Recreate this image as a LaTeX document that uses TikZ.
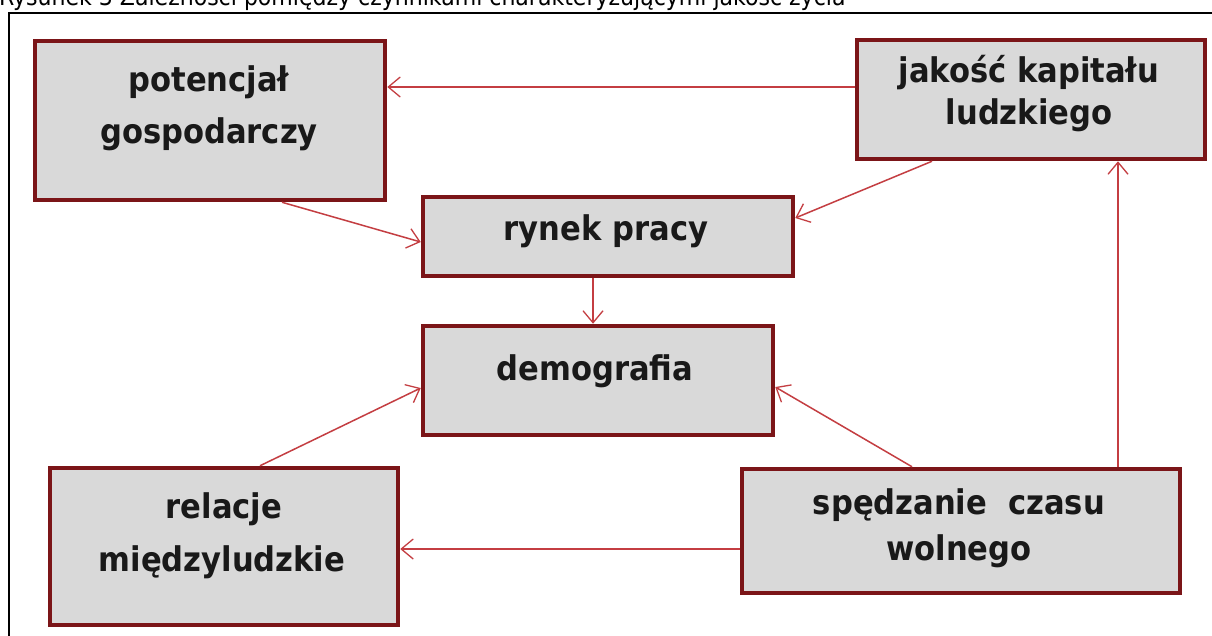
\documentclass[tikz,border=0pt]{standalone}
\usepackage{fontspec}
\setmainfont{DejaVu Sans Condensed}
\usetikzlibrary{arrows.meta}
\definecolor{boxfill}{HTML}{D9D9D9}
\definecolor{boxline}{HTML}{7B1518}
\definecolor{arrcol}{HTML}{C43E42}
\tikzset{
  box/.style={draw=boxline, line width=4.5pt, fill=boxfill, inner sep=0pt},
  lbl/.style={anchor=base, inner sep=0pt, font=\fontsize{34}{34}\selectfont\bfseries, text=black!90},
  arr/.style={draw=arrcol, line width=1.5pt, -{Straight Barb[length=12pt,width=20pt,line width=1.3pt]}}
}
\begin{document}
\begin{tikzpicture}[x=1pt,y=-1pt]
\useasboundingbox (0,0) rectangle (1212,635);
\fill[white] (0,0) rectangle (1212,635);
% title (cut off at the top)
\node[anchor=base west, inner sep=0pt, font=\fontsize{24.5}{24.5}\selectfont] (title) at (-1,5)
  {Rysunek 3 Zależności pomiędzy czynnikami charakteryzującymi jakość życia};
% outer frame
\draw[line width=2pt] (9,700) -- (9,13) -- (1300,13);
% boxes
\node[box, minimum width=350pt, minimum height=159pt] (pot) at (210,120.5) {};
\node[box, minimum width=348pt, minimum height=119pt] (jak) at (1031,99.5) {};
\node[box, minimum width=370pt, minimum height=79pt] (ryn) at (608,236.5) {};
\node[box, minimum width=350pt, minimum height=109pt] (dem) at (598,380.5) {};
\node[box, minimum width=348pt, minimum height=157pt] (rel) at (224,546.5) {};
\node[box, minimum width=438pt, minimum height=124pt] (spe) at (961,531) {};
% labels
\node[lbl] (pot1) at (209,91) {potencjał};
\node[lbl] (pot2) at (209,143) {gospodarczy};
\node[lbl] (jak1) at (1029,82) {jakość kapitału};
\node[lbl] (jak2) at (1029,124) {ludzkiego};
\node[lbl] (ryn1) at (606,240) {rynek pracy};
\node[lbl] (dem1) at (595,380) {demografia};
\node[lbl] (rel1) at (224,518) {relacje};
\node[lbl] (rel2) at (222,571) {międzyludzkie};
\node[lbl] (spe1) at (959,514) {spędzanie\ \ czasu};
\node[lbl] (spe2) at (959,560) {wolnego};
% connectors
\draw[arr] ([yshift=12.5pt]jak.west) -- ([yshift=12.5pt]jak.west -| pot.east);
\draw[arr] ([xshift=72pt]pot.south) -- ([yshift=-5.5pt]ryn.west);
\draw[arr] ([xshift=-99pt]jak.south) -- ([yshift=18.5pt]ryn.east);
\draw[arr] ([xshift=-15pt]ryn.south) -- ([xshift=-15pt]ryn.south |- dem.north);
\draw[arr] ([xshift=36pt]rel.north) -- ([yshift=-7.5pt]dem.west);
\draw[arr] ([xshift=-49pt]spe.north) -- ([yshift=-6.5pt]dem.east);
\draw[arr] ([xshift=157pt]spe.north) -- ([xshift=157pt]spe.north |- jak.south);
\draw[arr] ([yshift=-18pt]spe.west) -- ([yshift=-18pt]spe.west -| rel.east);
\end{tikzpicture}
\end{document}
